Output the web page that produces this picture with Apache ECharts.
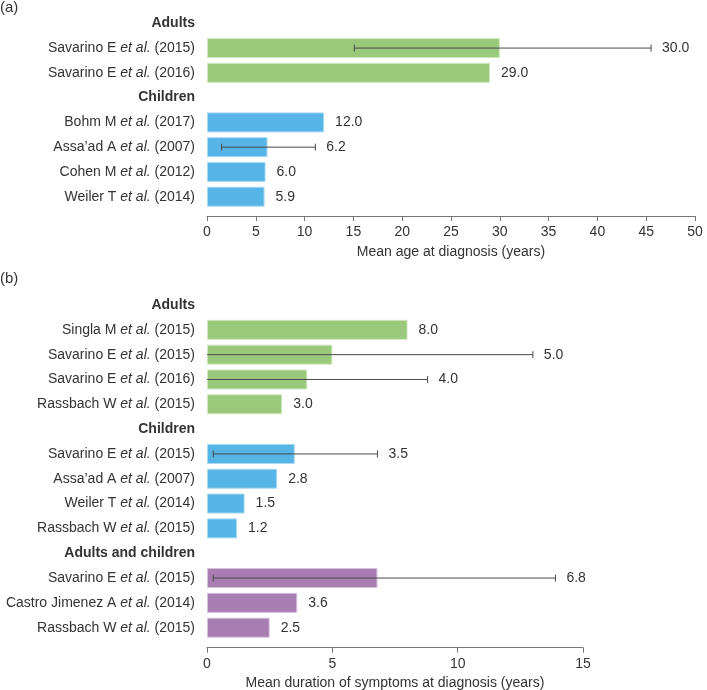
<!DOCTYPE html>
<html>
<head>
<meta charset="utf-8">
<script src="https://cdn.jsdelivr.net/npm/echarts@6/dist/echarts.min.js"></script>
<style>
html,body{margin:0;padding:0;background:#fff;}
#chart{width:707px;height:690px;}
</style>
</head>
<body>
<div id="chart"></div>
<script>
// ---- Panel (a) data ----
const aCategories = ['#Adults', 'Savarino E et al. (2015)', 'Savarino E et al. (2016)', '#Children',
  'Bohm M et al. (2017)', "Assa\u2019ad A et al. (2007)", 'Cohen M et al. (2012)', 'Weiler T et al. (2014)'];
const aGroups = [null, 'Adults', 'Adults', null, 'Children', 'Children', 'Children', 'Children'];
const aValues = [null, 30.0, 29.0, null, 12.0, 6.2, 6.0, 5.9];
const aLow    = [null, 15.1, null, null, null, 1.5, null, null];
const aHigh   = [null, 45.5, null, null, null, 11.1, null, null];
const aTicks  = [0, 50, 5];
const aAxisName = 'Mean age at diagnosis (years)';

// ---- Panel (b) data ----
const bCategories = ['#Adults', 'Singla M et al. (2015)', 'Savarino E et al. (2015)', 'Savarino E et al. (2016)',
  'Rassbach W et al. (2015)', '#Children', 'Savarino E et al. (2015)', "Assa\u2019ad A et al. (2007)",
  'Weiler T et al. (2014)', 'Rassbach W et al. (2015)', '#Adults and children', 'Savarino E et al. (2015)',
  'Castro Jimenez A et al. (2014)', 'Rassbach W et al. (2015)'];
const bGroups = [null, 'Adults', 'Adults', 'Adults', 'Adults', null, 'Children', 'Children', 'Children', 'Children',
  null, 'Both', 'Both', 'Both'];
const bValues = [null, 8.0, 5.0, 4.0, 3.0, null, 3.5, 2.8, 1.5, 1.2, null, 6.8, 3.6, 2.5];
const bLow    = [null, null, -3.0, -0.8, null, null, 0.25, null, null, null, null, 0.25, null, null];
const bHigh   = [null, null, 13.0, 8.8, null, null, 6.8, null, null, null, null, 13.9, null, null];
const bTicks  = [0, 15, 5];
const bAxisName = 'Mean duration of symptoms at diagnosis (years)';

const groupColors = {
  Adults:   {fill: '#9BC97C', border: '#CFE6BF'},
  Children: {fill: '#56B5E6', border: '#A9DAF3'},
  Both:     {fill: '#A87DB2', border: '#D6C0DB'}
};

const FONT = '"Liberation Sans", Arial, Helvetica, sans-serif';
const TXT = '#333333';

function catLabel(v) {
  if (v.charAt(0) === '#') return '{h|' + v.slice(1) + '}';
  const k = v.indexOf('et al.');
  if (k < 0) return '{n|' + v + '}';
  return '{n|' + v.slice(0, k) + '}{i|et al.}{n|' + v.slice(k + 6) + '}';
}

function barData(values, groups) {
  return values.map((v, i) => v == null ? '-' : {
    value: v,
    itemStyle: {color: groupColors[groups[i]].fill, borderColor: groupColors[groups[i]].border, borderWidth: 1}
  });
}

function customData(values, low, high) {
  const out = [];
  values.forEach((v, i) => {
    if (v == null) return;
    out.push([v, i, low[i] == null ? NaN : low[i], high[i] == null ? NaN : high[i]]);
  });
  return out;
}

function makeRender(axisMin) {
  return function (params, api) {
    const v = api.value(0), idx = api.value(1), lo = api.value(2), hi = api.value(3);
    const children = [];
    const yc = api.coord([0, idx])[1];
    let labelX = api.coord([v, idx])[0];
    if (!isNaN(hi)) {
      const clipped = lo < axisMin;
      const x1 = api.coord([clipped ? axisMin : lo, idx])[0];
      const x2 = api.coord([hi, idx])[0];
      const st = {stroke: '#4a4a4a', lineWidth: 1};
      children.push({type: 'line', shape: {x1: x1, y1: yc, x2: x2, y2: yc}, style: st});
      children.push({type: 'line', shape: {x1: x2, y1: yc - 3.5, x2: x2, y2: yc + 3.5}, style: st});
      if (!clipped) children.push({type: 'line', shape: {x1: x1, y1: yc - 3.5, x2: x1, y2: yc + 3.5}, style: st});
      labelX = Math.max(labelX, x2);
    }
    children.push({type: 'text', style: {x: labelX + 11, y: yc, text: v.toFixed(1), fill: TXT,
      font: '14px ' + FONT, verticalAlign: 'middle', align: 'left'}});
    return {type: 'group', children: children};
  };
}

function yAxisCfg(gi, cats) {
  return {
    type: 'category', gridIndex: gi, data: cats, inverse: true,
    axisLine: {show: false}, axisTick: {show: false},
    axisLabel: {
      margin: 12, formatter: catLabel,
      rich: {
        n: {fontSize: 14, fontFamily: FONT, color: TXT},
        i: {fontSize: 14, fontFamily: FONT, color: TXT, fontStyle: 'italic'},
        h: {fontSize: 14, fontFamily: FONT, color: TXT, fontWeight: 'bold'}
      }
    }
  };
}

function xAxisCfg(gi, ticks, name, offset, nameGap) {
  return {
    type: 'value', gridIndex: gi, min: ticks[0], max: ticks[1], interval: ticks[2], offset: offset,
    name: name, nameLocation: 'middle', nameGap: nameGap,
    nameTextStyle: {fontSize: 14, fontFamily: FONT, color: TXT},
    splitLine: {show: false},
    axisLine: {show: true, lineStyle: {color: '#777777', width: 1}},
    axisTick: {show: true, length: 5, lineStyle: {color: '#777777'}},
    axisLabel: {fontSize: 14, fontFamily: FONT, color: TXT, margin: 9}
  };
}

const chart = echarts.init(document.getElementById('chart'), null, {renderer: 'canvas'});
chart.setOption({
  animation: false,
  backgroundColor: '#ffffff',
  textStyle: {fontFamily: FONT},
  graphic: [
    {type: 'text', left: 0, top: 0, style: {text: '(a)', font: '15px ' + FONT, fill: TXT}},
    {type: 'text', left: 0, top: 271, style: {text: '(b)', font: '15px ' + FONT, fill: TXT}}
  ],
  grid: [
    {left: 207, right: 12, top: 10.9, height: 198.2, containLabel: false, outerBoundsMode: 'none'},
    {left: 207, right: 124, top: 292.6, height: 347.5, containLabel: false, outerBoundsMode: 'none'}
  ],
  xAxis: [xAxisCfg(0, aTicks, aAxisName, 7, 29), xAxisCfg(1, bTicks, bAxisName, 7.6, 28)],
  yAxis: [yAxisCfg(0, aCategories), yAxisCfg(1, bCategories)],
  series: [
    {type: 'bar', xAxisIndex: 0, yAxisIndex: 0, barWidth: 20, data: barData(aValues, aGroups), silent: true},
    {type: 'bar', xAxisIndex: 1, yAxisIndex: 1, barWidth: 20, data: barData(bValues, bGroups), silent: true},
    {type: 'custom', xAxisIndex: 0, yAxisIndex: 0, renderItem: makeRender(aTicks[0]),
      dimensions: ['v', 'c', 'lo', 'hi'], encode: {x: [0, 2, 3], y: 1},
      data: customData(aValues, aLow, aHigh), z: 5, silent: true, clip: false},
    {type: 'custom', xAxisIndex: 1, yAxisIndex: 1, renderItem: makeRender(bTicks[0]),
      dimensions: ['v', 'c', 'lo', 'hi'], encode: {x: [0, 2, 3], y: 1},
      data: customData(bValues, bLow, bHigh), z: 5, silent: true, clip: false}
  ]
});
</script>
</body>
</html>
